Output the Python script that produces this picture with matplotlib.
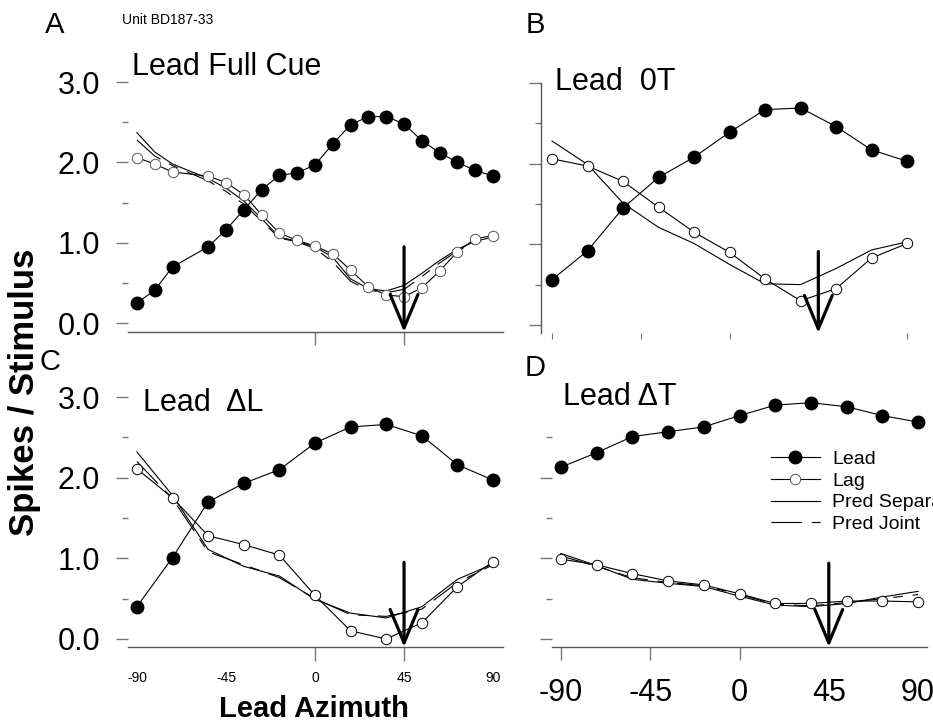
import numpy as np
import matplotlib
matplotlib.use("Agg")
from matplotlib import pyplot as plt
from matplotlib.lines import Line2D

plt.rcParams['font.family'] = ['Liberation Sans', 'DejaVu Sans']
plt.rcParams['lines.scale_dashes'] = False

# azimuths (deg)
az_a = [-90, -81, -72, -54, -45, -36, -27, -18, -9, 0, 9, 18, 27, 36, 45, 54, 63, 72, 81, 90]
az = [-90, -72, -54, -36, -18, 0, 18, 36, 54, 72, 90]

# A - Lead Full Cue
lead_a = [0.25, 0.41, 0.70, 0.95, 1.16, 1.41, 1.66, 1.84, 1.87, 1.97,
          2.23, 2.47, 2.57, 2.57, 2.48, 2.27, 2.12, 2.00, 1.90, 1.83]
lag_a = [2.06, 1.98, 1.88, 1.83, 1.75, 1.60, 1.35, 1.12, 1.03, 0.96,
         0.86, 0.66, 0.45, 0.35, 0.33, 0.44, 0.65, 0.89, 1.05, 1.09]
sep_a = [2.37, 2.13, 1.98, 1.80, 1.68, 1.52, 1.30, 1.07, 1.02, 0.95,
         0.82, 0.55, 0.43, 0.40, 0.47, 0.62, 0.78, 0.92, 1.02, 1.07]
joint_a = [2.28, 2.08, 1.96, 1.77, 1.64, 1.48, 1.27, 1.06, 1.01, 0.93,
           0.76, 0.52, 0.41, 0.38, 0.42, 0.58, 0.75, 0.90, 1.00, 1.06]

# B - Lead 0T
lead_b = [0.56, 0.92, 1.45, 1.83, 2.08, 2.39, 2.67, 2.69, 2.46, 2.17, 2.03]
lag_b = [2.06, 1.97, 1.78, 1.46, 1.15, 0.90, 0.57, 0.30, 0.45, 0.83, 1.01]
sep_b = [2.28, 1.99, 1.51, 1.21, 1.01, 0.75, 0.51, 0.50, 0.70, 0.93, 1.03]

# C - Lead dL
lead_c = [0.40, 1.01, 1.70, 1.93, 2.10, 2.43, 2.63, 2.66, 2.52, 2.16, 1.97]
lag_c = [2.11, 1.75, 1.28, 1.17, 1.04, 0.54, 0.10, 0.00, 0.20, 0.65, 0.96]
sep_c = [2.32, 1.78, 1.11, 0.90, 0.78, 0.49, 0.32, 0.26, 0.40, 0.74, 0.93]
joint_c = [2.20, 1.74, 1.08, 0.92, 0.76, 0.50, 0.30, 0.28, 0.37, 0.70, 0.92]

# D - Lead dT
lead_d = [2.13, 2.31, 2.51, 2.57, 2.63, 2.77, 2.90, 2.93, 2.88, 2.77, 2.69]
lag_d = [0.99, 0.92, 0.81, 0.72, 0.67, 0.56, 0.44, 0.44, 0.47, 0.47, 0.46]
sep_d = [1.06, 0.91, 0.74, 0.69, 0.65, 0.53, 0.42, 0.40, 0.44, 0.52, 0.59]
joint_d = [1.03, 0.90, 0.76, 0.70, 0.66, 0.55, 0.43, 0.41, 0.45, 0.50, 0.55]

best_az = 45
arrow_top = [0.95, 0.91, 0.95, 0.94]

titles = ["Lead Full Cue", "Lead  0T", "Lead  \u0394L", "Lead \u0394T"]
letters = ["A", "B", "C", "D"]

W, H = 933, 726
fig = plt.figure(figsize=(W / 100, H / 100), dpi=100)

def px_axes(l, t, r, b):
    return fig.add_axes([l / W, 1 - b / H, (r - l) / W, (b - t) / H])

axA = px_axes(128, 74, 503, 332)
axB = px_axes(541, 83, 915, 333)
axC = px_axes(128, 389, 503, 647)
axD = px_axes(552, 389, 927, 647)

axA.set_xlim(-94.5, 95); axA.set_ylim(-0.11, 3.1)
axB.set_xlim(-95.6, 94); axB.set_ylim(-0.1, 3.0)
axC.set_xlim(-94.5, 95); axC.set_ylim(-0.1, 3.1)
axD.set_xlim(-94.5, 94.5); axD.set_ylim(-0.1, 3.1)

grey = '#777777'
lw = 0.8
joint_dash = (22, 7, 7, 7)

def draw(ax, x, lead, lag, sep, joint, lag_edge='black'):
    ax.plot(x, sep, color='black', lw=lw)
    if joint is not None:
        ax.plot(x, joint, color='black', lw=lw, dashes=joint_dash)
    ax.plot(x, lag, color='black', lw=lw, marker='o', ms=7.5, mfc='white',
            mec=lag_edge, mew=0.7)
    ax.plot(x, lead, color='black', lw=lw, marker='o', ms=9, mfc='black', mec='black')

draw(axA, az_a, lead_a, lag_a, sep_a, joint_a, lag_edge='#555555')
draw(axB, az, lead_b, lag_b, sep_b, None)
draw(axC, az, lead_c, lag_c, sep_c, joint_c)
draw(axD, az, lead_d, lag_d, sep_d, joint_d)

# arrow marking the best azimuth
for ax, top in zip([axA, axB, axC, axD], arrow_top):
    y0 = ax.get_ylim()[0]
    ax.annotate('', xy=(best_az, y0), xytext=(best_az, top),
                arrowprops=dict(arrowstyle='->,head_length=1.2,head_width=0.5',
                                lw=2.3, color='black', shrinkA=0, shrinkB=0,
                                mutation_scale=20))

for ax in [axA, axB, axC, axD]:
    for s in ['top', 'right']:
        ax.spines[s].set_visible(False)
    ax.set_yticks([0, 1, 2, 3])
    ax.set_yticks([0.5, 1.5, 2.5], minor=True)
    ax.tick_params(axis='y', which='major', length=9, width=1, color=grey,
                   pad=11, labelsize=22)
    ax.tick_params(axis='y', which='minor', length=4.5, width=1, color=grey)

for ax in [axA, axC, axD]:
    ax.spines['left'].set_visible(False)
    ax.spines['bottom'].set_color('#555555')
    ax.spines['bottom'].set_linewidth(1)
axB.spines['bottom'].set_visible(False)
axB.spines['left'].set_color('#555555')
axB.spines['left'].set_linewidth(1)

# y labels only on left column
for ax in [axA, axC]:
    ax.set_yticklabels(['0.0', '1.0', '2.0', '3.0'])
axB.set_yticklabels([])
axD.set_yticks([0, 1, 2])
axD.set_yticklabels([])

# x ticks
axA.set_xticks([0, 45])
axA.set_xticklabels([])
axA.tick_params(axis='x', length=9, width=1, color=grey)

axB.set_xticks([-90, -45, 0, 90])
axB.set_xticklabels([])
axB.tick_params(axis='x', length=4, width=0.8, color=grey)

axC.set_xticks([-90, -45, 0, 45, 90])
axC.set_xticklabels(['-90', '-45', '0', '45', '90'])
axC.tick_params(axis='x', length=10, width=1, color=grey, pad=7, labelsize=10)
for t in axC.xaxis.get_major_ticks()[:2] + axC.xaxis.get_major_ticks()[4:]:
    t.tick1line.set_visible(False)

axD.set_xticks([-90, -45, 0, 45, 90])
axD.set_xticklabels(['-90', '-45', '0', '45', '90'])
axD.tick_params(axis='x', length=9, width=1, color=grey, pad=13, labelsize=22)
for t in axD.xaxis.get_major_ticks()[3:]:
    t.tick1line.set_visible(False)

# titles and panel letters
fig.text(132 / W, 1 - 67 / H, titles[0], fontsize=22, va='center', ha='left')
fig.text(555 / W, 1 - 82 / H, titles[1], fontsize=22, va='center', ha='left')
fig.text(143 / W, 1 - 403 / H, titles[2], fontsize=22, va='center', ha='left')
fig.text(563 / W, 1 - 397 / H, titles[3], fontsize=22, va='center', ha='left')

for (x, y), letter in zip([(55, 25), (535, 25), (50, 362), (535, 368)], letters):
    fig.text(x / W, 1 - y / H, letter, fontsize=21, va='center', ha='center')

fig.text(122 / W, 1 - 20 / H, "Unit BD187-33", fontsize=10, va='center', ha='left')

fig.text(25 / W, 1 - 392 / H, "Spikes / Stimulus", fontsize=25, fontweight='bold',
         rotation=90, va='center', ha='center')
fig.text(314 / W, 1 - 709 / H, "Lead Azimuth", fontsize=21, fontweight='bold',
         va='center', ha='center')

# legend in panel D (runs past the right edge, as in the original)
handles = [
    Line2D([], [], color='black', lw=lw, marker='o', ms=9, mfc='black'),
    Line2D([], [], color='black', lw=lw, marker='o', ms=7.5, mfc='white', mec='#555555', mew=0.7),
    Line2D([], [], color='black', lw=lw),
    Line2D([], [], color='black', lw=lw, dashes=joint_dash),
]
fig.legend(handles, ['Lead', 'Lag', 'Pred Separate', 'Pred Joint'],
           loc='upper left', bbox_to_anchor=(771 / W, 1 - 450 / H),
           frameon=False, fontsize=14, handlelength=2.5, handletextpad=0.65,
           labelspacing=0.22, borderpad=0, borderaxespad=0)

fig.savefig('out.png', dpi=100)
